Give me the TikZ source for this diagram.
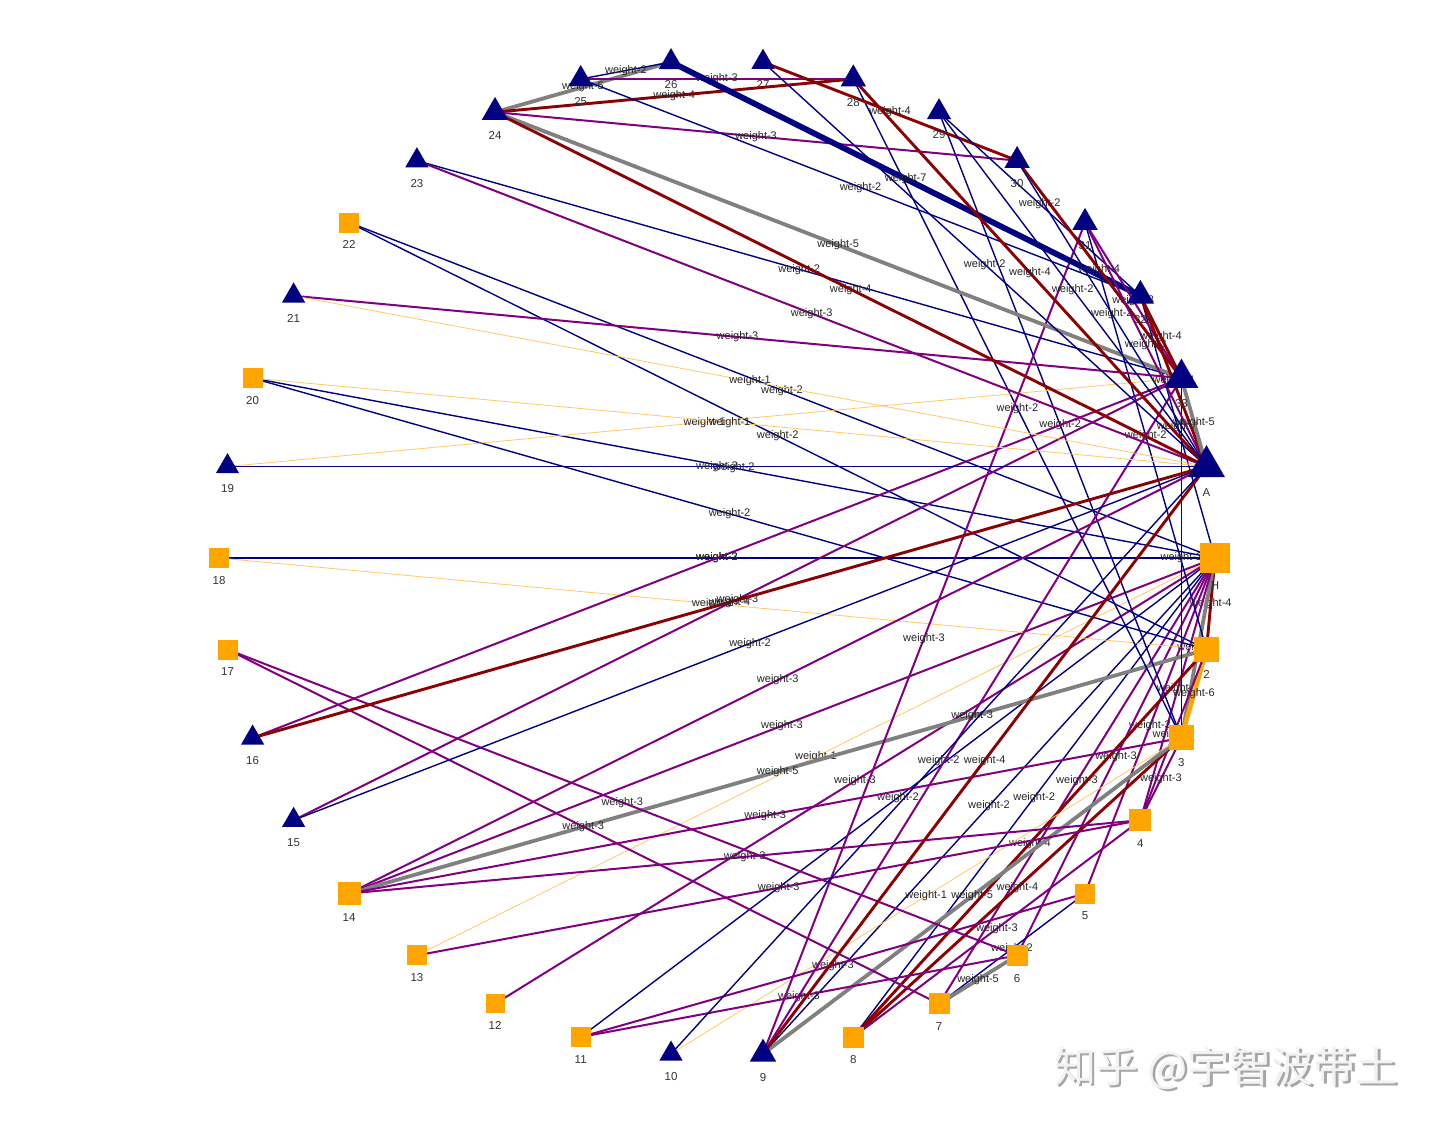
\documentclass[tikz,border=0pt]{standalone}
\usepackage{fontspec}
\setmainfont{Liberation Sans}
\newfontfamily\cjkfont{Noto Sans CJK SC}
\usepackage{tikz}
\usetikzlibrary{shapes.geometric,backgrounds}

\definecolor{navyc}{RGB}{0,0,128}
\definecolor{orangec}{RGB}{255,165,0}
\definecolor{purplec}{RGB}{128,0,128}
\definecolor{darkredc}{RGB}{139,0,0}
\definecolor{grayc}{RGB}{128,128,128}

\tikzset{
	tri/.style={regular polygon, regular polygon sides=3, fill=navyc, inner sep=0pt, outer sep=0pt, minimum size=1.22*#1pt},
	sq/.style={rectangle, fill=orangec, inner sep=0pt, outer sep=0pt, minimum size=#1pt},
	nlbl/.style={font=\fontsize{11.5}{13}\selectfont, text=black!80, inner sep=0pt},
	sqlbl/.style={nlbl, yshift=-8pt},
	trilbl/.style={nlbl, yshift=-11.5pt},
	wlbl/.style={font=\fontsize{11}{13}\selectfont, text=black!85, inner sep=0pt},
	w1/.style={draw=orangec!60, line width=0.8pt},
	w2/.style={draw=navyc, line width=1.4pt},
	w3/.style={draw=purplec, line width=2pt},
	w4/.style={draw=darkredc, line width=2.9pt},
	w5/.style={draw=grayc, line width=3.8pt},
	w6/.style={draw=orangec, line width=4.6pt},
	w7/.style={draw=navyc, line width=5.8pt},
}

\begin{document}
\begin{tikzpicture}[x=1pt, y=-1pt]
		%%%%% START %%%%%
		\useasboundingbox (0,0) rectangle (1440,1129);
		
		% squares
		\node[sq=30, label={[sqlbl]below:H}] (nH) at (1215,558) {};
		\node[sq=25, label={[sqlbl]below:2}] (n2) at (1206.5,649.5) {};
		\node[sq=25, label={[sqlbl]below:3}] (n3) at (1181.4,737.9) {};
		\node[sq=22, label={[sqlbl]below:4}] (n4) at (1140.4,820.2) {};
		\node[sq=20, label={[sqlbl]below:5}] (n5) at (1085,893.5) {};
		\node[sq=21, label={[sqlbl]below:6}] (n6) at (1017.1,955.4) {};
		\node[sq=21, label={[sqlbl]below:7}] (n7) at (939,1003.8) {};
		\node[sq=21, label={[sqlbl]below:8}] (n8) at (853.3,1037) {};
		\node[sq=20, label={[sqlbl]below:11}] (n11) at (580.7,1037) {};
		\node[sq=19, label={[sqlbl]below:12}] (n12) at (495,1003.8) {};
		\node[sq=20, label={[sqlbl]below:13}] (n13) at (416.9,955.4) {};
		\node[sq=23, label={[sqlbl]below:14}] (n14) at (349,893.5) {};
		\node[sq=20, label={[sqlbl]below:17}] (n17) at (227.5,649.5) {};
		\node[sq=20, label={[sqlbl]below:18}] (n18) at (219,558) {};
		\node[sq=20, label={[sqlbl]below:20}] (n20) at (252.6,378.1) {};
		\node[sq=20, label={[sqlbl]below:22}] (n22) at (349,222.5) {};
		
		% triangles
		\node[tri=35, label={[trilbl]below:A}] (nA) at (1206.5,466.5) {};
		\node[tri=25, label={[trilbl]below:9}] (n9) at (763,1053.9) {};
		\node[tri=22, label={[trilbl]below:10}] (n10) at (671,1053.9) {};
		\node[tri=22, label={[trilbl]below:15}] (n15) at (293.6,820.2) {};
		\node[tri=22, label={[trilbl]below:16}] (n16) at (252.6,737.9) {};
		\node[tri=22, label={[trilbl]below:19}] (n19) at (227.5,466.5) {};
		\node[tri=22, label={[trilbl]below:21}] (n21) at (293.6,295.8) {};
		\node[tri=22, label={[trilbl]below:23}] (n23) at (416.9,160.6) {};
		\node[tri=25, label={[trilbl]below:24}] (n24) at (495,112.2) {};
		\node[tri=23, label={[trilbl]below:25}] (n25) at (580.7,79) {};
		\node[tri=23, label={[trilbl]below:26}] (n26) at (671,62.1) {};
		\node[tri=22, label={[trilbl]below:27}] (n27) at (763,62.1) {};
		\node[tri=24, label={[trilbl]below:28}] (n28) at (853.3,79) {};
		\node[tri=23, label={[trilbl]below:29}] (n29) at (939,112.2) {};
		\node[tri=24, label={[trilbl]below:30}] (n30) at (1017.1,160.6) {};
		\node[tri=24, label={[trilbl]below:31}] (n31) at (1085,222.5) {};
		\node[tri=26, label={[trilbl]below:32}] (n32) at (1140.4,295.8) {};
		\node[tri=32, label={[trilbl]below:33}] (n33) at (1181.4,378.1) {};
		
		\begin{scope}[on background layer]
		\fill[white] (0,0) rectangle (1440,1129);
		
		% edges of H
		\draw[w4] (nH.center) -- node[wlbl] {weight-4} (n2.center);
		\draw[w5] (nH.center) -- node[wlbl] {weight-5} (n3.center);
		\draw[w3] (nH.center) -- node[wlbl] {weight-3} (n4.center);
		\draw[w3] (nH.center) -- node[wlbl] {weight-3} (n5.center);
		\draw[w3] (nH.center) -- node[wlbl] {weight-3} (n6.center);
		\draw[w3] (nH.center) -- node[wlbl] {weight-3} (n7.center);
		\draw[w2] (nH.center) -- node[wlbl] {weight-2} (n8.center);
		\draw[w2] (nH.center) -- node[wlbl] {weight-2} (n9.center);
		\draw[w2] (nH.center) -- node[wlbl] {weight-2} (n11.center);
		\draw[w3] (nH.center) -- node[wlbl] {weight-3} (n12.center);
		\draw[w1] (nH.center) -- node[wlbl] {weight-1} (n13.center);
		\draw[w3] (nH.center) -- node[wlbl] {weight-3} (n14.center);
		\draw[w2] (nH.center) -- node[wlbl] {weight-2} (n18.center);
		\draw[w2] (nH.center) -- node[wlbl] {weight-2} (n20.center);
		\draw[w2] (nH.center) -- node[wlbl] {weight-2} (n22.center);
		\draw[w2] (nH.center) -- node[wlbl] {weight-2} (n32.center);
		
		% edges of 2 to 8
		\draw[w6] (n2.center) -- node[wlbl] {weight-6} (n3.center);
		\draw[w3] (n2.center) -- node[wlbl] {weight-3} (n4.center);
		\draw[w4] (n2.center) -- node[wlbl] {weight-4} (n8.center);
		\draw[w5] (n2.center) -- node[wlbl] {weight-5} (n14.center);
		\draw[w1] (n2.center) -- node[wlbl] {weight-1} (n18.center);
		\draw[w2] (n2.center) -- node[wlbl] {weight-2} (n20.center);
		\draw[w2] (n2.center) -- node[wlbl] {weight-2} (n22.center);
		\draw[w2] (n2.center) -- node[wlbl] {weight-2} (n31.center);
		\draw[w3] (n3.center) -- node[wlbl] {weight-3} (n4.center);
		\draw[w4] (n3.center) -- node[wlbl] {weight-4} (n8.center);
		\draw[w5] (n3.center) -- node[wlbl] {weight-5} (n9.center);
		\draw[w1] (n3.center) -- node[wlbl] {weight-1} (n10.center);
		\draw[w3] (n3.center) -- node[wlbl] {weight-3} (n14.center);
		\draw[w2] (n3.center) -- node[wlbl] {weight-2} (n28.center);
		\draw[w2] (n3.center) -- node[wlbl] {weight-2} (n29.center);
		\draw[w2] (n3.center) -- node[wlbl] {weight-2} (n33.center);
		\draw[w3] (n4.center) -- node[wlbl] {weight-3} (n8.center);
		\draw[w3] (n4.center) -- node[wlbl] {weight-3} (n13.center);
		\draw[w3] (n4.center) -- node[wlbl] {weight-3} (n14.center);
		\draw[w2] (n5.center) -- node[wlbl] {weight-2} (n7.center);
		\draw[w3] (n5.center) -- node[wlbl] {weight-3} (n11.center);
		\draw[w5] (n6.center) -- node[wlbl] {weight-5} (n7.center);
		\draw[w3] (n6.center) -- node[wlbl] {weight-3} (n11.center);
		\draw[w3] (n6.center) -- node[wlbl] {weight-3} (n17.center);
		\draw[w3] (n7.center) -- node[wlbl] {weight-3} (n17.center);
		
		% edges of 9 to 23
		\draw[w3] (n9.center) -- node[wlbl] {weight-3} (n31.center);
		\draw[w3] (n9.center) -- node[wlbl] {weight-3} (n33.center);
		\draw[w4] (n9.center) -- node[wlbl] {weight-4} (nA.center);
		\draw[w2] (n10.center) -- node[wlbl] {weight-2} (nA.center);
		\draw[w3] (n14.center) -- node[wlbl] {weight-3} (nA.center);
		\draw[w3] (n15.center) -- node[wlbl] {weight-3} (n33.center);
		\draw[w2] (n15.center) -- node[wlbl] {weight-2} (nA.center);
		\draw[w3] (n16.center) -- node[wlbl] {weight-3} (n33.center);
		\draw[w4] (n16.center) -- node[wlbl] {weight-4} (nA.center);
		\draw[w1] (n19.center) -- node[wlbl] {weight-1} (n33.center);
		\draw[w2] (n19.center) -- node[wlbl] {weight-2} (nA.center);
		\draw[w1] (n20.center) -- node[wlbl] {weight-1} (nA.center);
		\draw[w3] (n21.center) -- node[wlbl] {weight-3} (n33.center);
		\draw[w1] (n21.center) -- node[wlbl] {weight-1} (nA.center);
		\draw[w2] (n23.center) -- node[wlbl] {weight-2} (n33.center);
		\draw[w3] (n23.center) -- node[wlbl] {weight-3} (nA.center);
		
		% edges of 24 to 33
		\draw[w5] (n24.center) -- node[wlbl] {weight-5} (n26.center);
		\draw[w4] (n24.center) -- node[wlbl] {weight-4} (n28.center);
		\draw[w3] (n24.center) -- node[wlbl] {weight-3} (n30.center);
		\draw[w5] (n24.center) -- node[wlbl] {weight-5} (n33.center);
		\draw[w4] (n24.center) -- node[wlbl] {weight-4} (nA.center);
		\draw[w2] (n25.center) -- node[wlbl] {weight-2} (n26.center);
		\draw[w3] (n25.center) -- node[wlbl] {weight-3} (n28.center);
		\draw[w2] (n25.center) -- node[wlbl] {weight-2} (n32.center);
		\draw[w7] (n26.center) -- node[wlbl] {weight-7} (n32.center);
		\draw[w4] (n27.center) -- node[wlbl] {weight-4} (n30.center);
		\draw[w2] (n27.center) -- node[wlbl] {weight-2} (nA.center);
		\draw[w4] (n28.center) -- node[wlbl] {weight-4} (nA.center);
		\draw[w2] (n29.center) -- node[wlbl] {weight-2} (n32.center);
		\draw[w2] (n29.center) -- node[wlbl] {weight-2} (nA.center);
		\draw[w4] (n30.center) -- node[wlbl] {weight-4} (n33.center);
		\draw[w2] (n30.center) -- node[wlbl] {weight-2} (nA.center);
		\draw[w3] (n31.center) -- node[wlbl] {weight-3} (n33.center);
		\draw[w3] (n31.center) -- node[wlbl] {weight-3} (nA.center);
		\draw[w4] (n32.center) -- node[wlbl] {weight-4} (n33.center);
		\draw[w4] (n32.center) -- node[wlbl] {weight-4} (nA.center);
		\draw[w5] (n33.center) -- node[wlbl] {weight-5} (nA.center);
		\end{scope}
		
		% watermark
		\node[font=\cjkfont\fontsize{42}{46}\selectfont, text=black!35] (wmshade) at (1228.5,1070.5) {知乎 @宇智波带土};
		\node[font=\cjkfont\fontsize{42}{46}\selectfont, text=black!5] (wm) at (1226,1068) {知乎 @宇智波带土};
		
		%%%%% END %%%%%
	\end{tikzpicture}
\end{document}
